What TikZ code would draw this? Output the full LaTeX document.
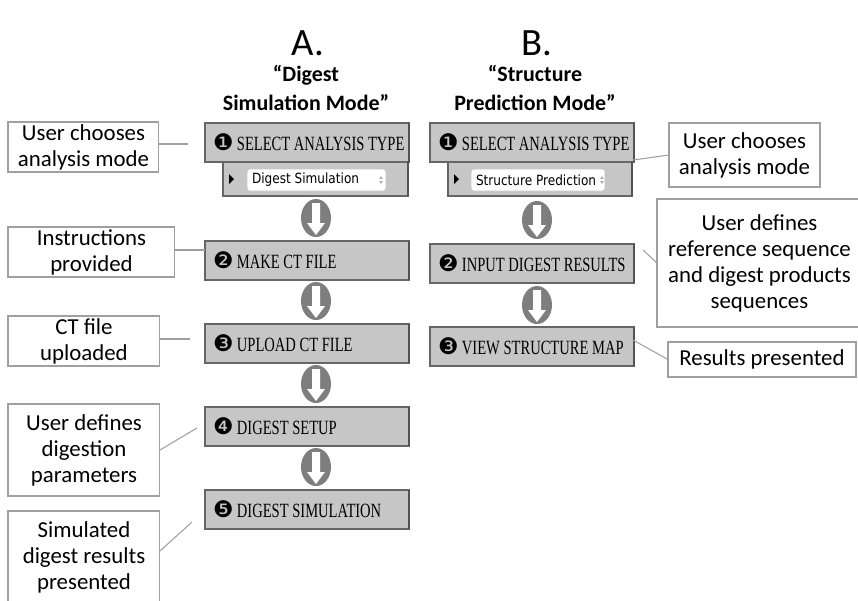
\documentclass[tikz,border=0pt]{standalone}
\usepackage{fontspec}
\setmainfont{Carlito}
\newfontfamily\stepfont[FakeStretch=0.72]{Liberation Serif}
\newfontfamily\numfont{DejaVu Sans}
\newfontfamily\menufont[FakeStretch=0.86]{DejaVu Sans}
\usetikzlibrary{positioning,shapes.geometric}
\definecolor{boxgray}{HTML}{C6C6C6}
\definecolor{edgegray}{HTML}{666666}
\definecolor{arrowgray}{HTML}{7E7E7E}
\definecolor{notegray}{HTML}{A0A0A0}
\newcommand{\stepnum}[1]{{\numfont\fontsize{13}{12}\selectfont #1}\hspace{2pt}}

\begin{document}
\begin{tikzpicture}[
        x=0.02cm, y=-0.02cm,
        every node/.style={inner sep=0pt, outer sep=0pt},
        stepbox/.style={draw=edgegray, fill=boxgray, line width=0.7pt, anchor=north west,
            minimum height=0.78cm, minimum width=4.08cm, inner xsep=0.16cm,
            font=\stepfont\fontsize{11.5}{12}\selectfont, text=black},
        menubar/.style={draw=edgegray, fill=boxgray, line width=0.7pt, anchor=north west,
            minimum height=0.68cm},
        menu/.style={draw=gray!45, fill=white, rounded corners=1.5pt, line width=0.5pt,
            minimum height=0.44cm, inner xsep=0.1cm,
            font=\menufont\fontsize{8}{9}\selectfont},
        flowarrow/.style={ellipse, fill=arrowgray, minimum width=0.6cm, minimum height=0.76cm,
            path picture={\fill[white, shift={(path picture bounding box.center)}]
                (-4,-15) -- (4,-15) -- (4,5) -- (9,5) -- (0,17) -- (-9,5) -- (-4,5) -- cycle;}},
        note/.style={draw=notegray, fill=white, line width=0.6pt, anchor=north west, align=center,
            font=\fontsize{13}{14.8}\selectfont},
        link/.style={draw=notegray, line width=0.6pt},
        marker/.style={fill=black},
        spinner/.style={fill=gray!60},
    ]
    \useasboundingbox (0,0) rectangle (858,600);

    % Headings
    \node (ta) at (308,43) {\fontsize{22}{22}\selectfont A.};
    \node (tb) at (537,43) {\fontsize{22}{22}\selectfont B.};
    \node[align=center, font=\bfseries\fontsize{12.5}{16}\selectfont] (ma) at (306,88) {“Digest\\Simulation Mode”};
    \node[align=center, font=\bfseries\fontsize{12.5}{16}\selectfont] (mb) at (535,88) {“Structure\\Prediction Mode”};

    % === A: digest simulation steps ===
    \node[stepbox] (a1) at (205,123) {\makebox[3.76cm][l]{\stepnum{❶}SELECT ANALYSIS TYPE}};
    \node[menubar, minimum width=3.7cm] (a1m) at (223,162) {};
    \node[menu] (a1d) at (316.5,180) {\makebox[2.58cm][l]{Digest Simulation}};
    \fill[marker] (a1m.west) ++(6,-5) -- ++(5,5) -- ++(-5,5) -- cycle;
    \fill[spinner] (a1d.east) ++(-7,-1) -- ++(2,-3) -- ++(2,3) -- cycle ++(0,2) -- ++(2,3) -- ++(2,-3) -- cycle;
    \node[flowarrow] (aA1) at (316,218) {};
    \node[stepbox] (a2) at (205,241) {\makebox[3.76cm][l]{\stepnum{❷}MAKE CT FILE}};
    \node[flowarrow] (aA2) at (316,301) {};
    \node[stepbox] (a3) at (205,324) {\makebox[3.76cm][l]{\stepnum{❸}UPLOAD CT FILE}};
    \node[flowarrow] (aA3) at (316,384) {};
    \node[stepbox] (a4) at (205,407) {\makebox[3.76cm][l]{\stepnum{❹}DIGEST SETUP}};
    \node[flowarrow] (aA4) at (316,467) {};
    \node[stepbox] (a5) at (205,490) {\makebox[3.76cm][l]{\stepnum{❺}DIGEST SIMULATION}};

    % === B: structure prediction steps ===
    \node[stepbox] (b1) at (430,123) {\makebox[3.76cm][l]{\stepnum{❶}SELECT ANALYSIS TYPE}};
    \node[menubar, minimum width=3.68cm] (b1m) at (448,162) {};
    \node[menu] (b1d) at (538,180) {\makebox[2.48cm][l]{Structure Prediction}};
    \fill[marker] (b1m.west) ++(6,-5) -- ++(5,5) -- ++(-5,5) -- cycle;
    \fill[spinner] (b1d.east) ++(-5,-1) -- ++(2,-3) -- ++(2,3) -- cycle ++(0,2) -- ++(2,3) -- ++(2,-3) -- cycle;
    \node[flowarrow] (aB1) at (537,220) {};
    \node[stepbox] (b2) at (430,244) {\makebox[3.76cm][l]{\stepnum{❷}INPUT DIGEST RESULTS}};
    \node[flowarrow] (aB2) at (537,305) {};
    \node[stepbox] (b3) at (430,327) {\makebox[3.76cm][l]{\stepnum{❸}VIEW STRUCTURE MAP}};

    % darker right edges on the grey bars
    \foreach \s in {a1,a1m,a2,a3,a4,a5,b1,b1m,b2,b3}
        \draw[edgegray!80!black, line width=1.4pt] (\s.north east) -- (\s.south east);

    % === Notes on the left ===
    \node[note, minimum width=3.02cm, minimum height=1.0cm] (n1) at (8,122) {User chooses\\analysis mode};
    \node[note, minimum width=3.34cm, minimum height=1.0cm] (n2) at (8,227) {Instructions\\provided};
    \node[note, minimum width=3.04cm, minimum height=1.0cm] (n3) at (8,316) {CT file\\uploaded};
    \node[note, minimum width=3.04cm, minimum height=1.84cm] (n4) at (8,404) {User defines\\digestion\\parameters};
    \node[note, minimum width=3.04cm, minimum height=1.84cm] (n5) at (8,511) {Simulated\\digest results\\presented};

    % === Notes on the right ===
    \node[note, minimum width=3.02cm, minimum height=1.28cm] (r1) at (669,123) {User chooses\\analysis mode};
    \node[note, minimum width=4.1cm, minimum height=2.56cm] (r2) at (657,199) {User defines\\reference sequence\\and digest products\\sequences};
    \node[note, minimum width=3.76cm, minimum height=0.7cm] (r3) at (668,342) {Results presented};

    % Leader lines
    \coordinate (c1) at (188,144);
    \coordinate (c2) at (205,250);
    \coordinate (c3) at (190,339);
    \coordinate (c4) at (197,428);
    \coordinate (c5) at (192,522);
    \coordinate (c6) at (633,160);
    \coordinate (c7) at (643,250);
    \coordinate (c8) at (633,340);
    \draw[link] (n1.east |- c1) -- (c1);
    \draw[link] (n2.east |- c2) -- (c2);
    \draw[link] (n3.east |- c3) -- (c3);
    \draw[link] (n4.east) -- (c4);
    \draw[link] ([yshift=0.12cm]n5.east) -- (c5);
    \draw[link] (c6) -- (r1.west);
    \draw[link] (c7) -- (r2.west);
    \draw[link] (c8) -- (r3.west);

\end{tikzpicture}
\end{document}
